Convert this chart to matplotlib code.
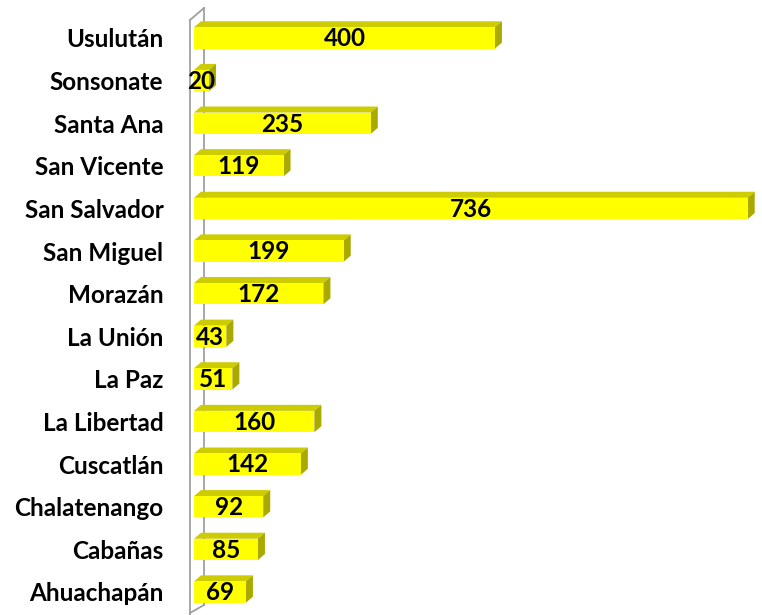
import matplotlib
matplotlib.use("Agg")
import matplotlib.pyplot as plt
from matplotlib.patches import Polygon
from matplotlib.lines import Line2D

categories = ["Ahuachapán", "Cabañas", "Chalatenango", "Cuscatlán", "La Libertad",
              "La Paz", "La Unión", "Morazán", "San Miguel", "San Salvador",
              "San Vicente", "Santa Ana", "Sonsonate", "Usulután"]
values = [69, 85, 92, 142, 160, 51, 43, 172, 199, 736, 119, 235, 20, 400]

FRONT = "#FFFF00"
TOP = "#CCCC00"
SIDE = "#A9A900"
WALL = "#A0A0A0"
FONT = ["Lato", "DejaVu Sans"]

W, H, DPI = 762, 615, 100
fig = plt.figure(figsize=(W / DPI, H / DPI), dpi=DPI)
ax_left, ax_w = 194, 568
ax = fig.add_axes([ax_left / W, 0, ax_w / W, 1])
xmax = 755
ax.set_xlim(0, xmax)
ax.set_ylim(-0.54, 13.89)

px_x = xmax / ax_w          # data units per pixel in x
px_y = (13.89 + 0.54) / H   # data units per pixel in y
dx, dy = 7 * px_x, 6 * px_y
h = 0.5

pos = list(range(len(categories)))
ax.barh(pos, values, height=h, color=FRONT, edgecolor="none", zorder=3)
for y, v in zip(pos, values):
    top = Polygon([(0, y + h / 2), (v, y + h / 2), (v + dx, y + h / 2 + dy), (dx, y + h / 2 + dy)],
                  closed=True, facecolor=TOP, edgecolor="none", zorder=2)
    side = Polygon([(v, y - h / 2), (v + dx, y - h / 2 + dy), (v + dx, y + h / 2 + dy), (v, y + h / 2)],
                   closed=True, facecolor=SIDE, edgecolor="none", zorder=2)
    ax.add_patch(top)
    ax.add_patch(side)
    ax.text(v / 2, y - 0.02, str(v), ha="center", va="center", fontsize=17.5, fontweight="bold",
            family=FONT, color="black", zorder=5)

# 3D wall lines (decoration)
fx = -4 * px_x
bx = 10 * px_x
y_top_front = 13.89 - 20 * px_y
y_top_back = 13.89 - 8 * px_y
y_bot_back = -0.54 + 10 * px_y
y_bot_front = -0.54 + 2 * px_y
wall = [([fx, fx], [-0.54, y_top_front]),
        ([fx, bx], [y_top_front, y_top_back]),
        ([bx, bx], [y_top_back, y_bot_back]),
        ([bx, fx], [y_bot_back, y_bot_front])]
for xs, ys in wall:
    ax.add_line(Line2D(xs, ys, color=WALL, lw=1.3, zorder=1, clip_on=False))

ax.set_yticks(pos)
ax.set_yticklabels(categories, fontsize=17.5, fontweight="bold", family=FONT)
ax.tick_params(axis="y", length=0, pad=22)
ax.set_xticks([])
for s in ax.spines.values():
    s.set_visible(False)

fig.savefig("out.png", dpi=DPI)
